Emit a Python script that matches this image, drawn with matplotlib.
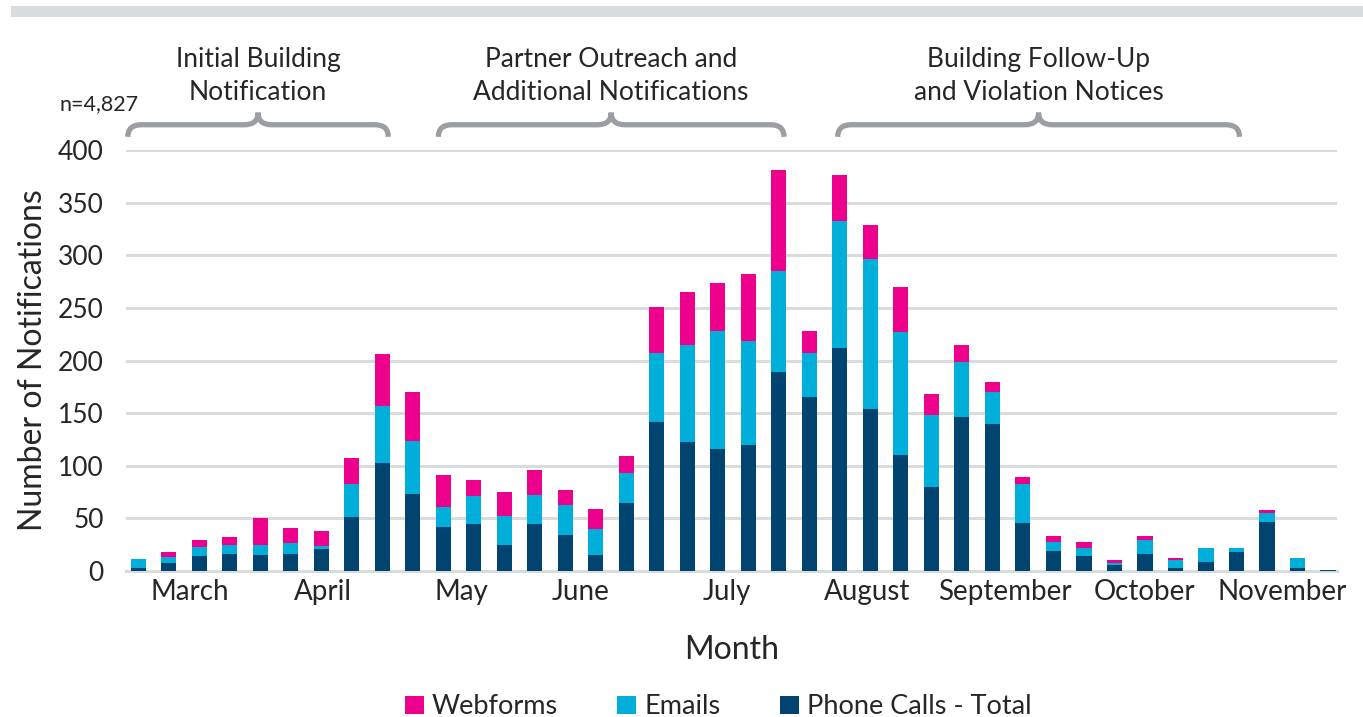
import matplotlib.pyplot as plt
import numpy as np
from matplotlib.path import Path
from matplotlib.patches import PathPatch, Rectangle

plt.rcParams['font.family'] = ['Lato', 'DejaVu Sans']

# weekly counts
phone = [3, 8, 14, 16, 15, 16, 21, 51, 103, 73,
         42, 45, 25, 45, 34, 15, 65, 142, 123, 116,
         120, 189, 165, 212, 154, 110, 80, 146, 140, 46,
         19, 14, 6, 16, 3, 9, 18, 47, 3, 0.5]
emails = [8, 5, 9, 9, 10, 11, 3, 32, 54, 51,
          19, 26, 27, 27, 29, 25, 28, 65, 92, 112,
          99, 96, 42, 121, 142, 117, 68, 53, 30, 37,
          9, 8, 2, 13, 7, 13, 4, 8, 9, 0]
webforms = [0, 5, 6, 7, 25, 14, 14, 24, 49, 46,
            30, 15, 23, 24, 14, 19, 16, 44, 50, 46,
            63, 96, 21, 43, 33, 43, 20, 16, 10, 6,
            5, 6, 2, 4, 2, 0, 0, 3, 0, 0]

month_labels = ['March', 'April', 'May', 'June', 'July', 'August',
                'September', 'October', 'November']
month_pos = [1.7, 6.05, 10.6, 14.5, 19.3, 23.9, 28.4, 33.0, 37.5]

phases = ['Initial Building\nNotification',
          'Partner Outreach and\nAdditional Notifications',
          'Building Follow-Up\nand Violation Notices']
phase_spans = [(-0.34, 8.2), (9.84, 21.17), (22.93, 36.1)]

c_phone = '#00446f'
c_email = '#00afd9'
c_web = '#ec008c'
txt = '#262626'

x = np.arange(len(phone))
phone = np.array(phone)
emails = np.array(emails)
webforms = np.array(webforms)

fig = plt.figure(figsize=(13.63, 7.17), dpi=100)
ax = fig.add_axes([0.0924, 0.2036, 0.8886, 0.5872])

w = 0.5
ax.bar(x, phone, w, color=c_phone, label='Phone Calls - Total', zorder=3)
ax.bar(x, emails, w, bottom=phone, color=c_email, label='Emails', zorder=3)
ax.bar(x, webforms, w, bottom=phone + emails, color=c_web, label='Webforms', zorder=3)

ax.set_xlim(-0.4, 39.3)
ax.set_ylim(0, 400)
ax.set_yticks(range(0, 401, 50))
ax.yaxis.grid(True, color='#d9dcdd', linewidth=2.2, zorder=0)
ax.set_axisbelow(True)
for s in ['top', 'right', 'left']:
    ax.spines[s].set_visible(False)
ax.spines['bottom'].set_color('#d9dcdd')
ax.spines['bottom'].set_linewidth(2.2)
ax.tick_params(axis='y', length=0, labelsize=19, labelcolor=txt, pad=16)
ax.set_xticks(month_pos)
ax.set_xticklabels(month_labels)
ax.tick_params(axis='x', length=0, labelsize=20, labelcolor=txt, pad=6)

ax.set_ylabel('Number of Notifications', fontsize=23, color=txt, labelpad=7)
ax.set_xlabel('Month', fontsize=23, color=txt, labelpad=21)

handles, labels = ax.get_legend_handles_labels()
fig.legend(handles[::-1], labels[::-1], loc='center', bbox_to_anchor=(0.527, 0.014),
           ncol=3, frameon=False, fontsize=19.5, handlelength=0.7, handleheight=0.7,
           handletextpad=0.3, columnspacing=2.2, labelcolor=txt)

# braces over the three phases
y_end, y_line, y_tip = 412.5, 424, 435.5
for (x0, x1), name in zip(phase_spans, phases):
    xm = (x0 + x1) / 2
    d = 0.45
    verts = [(x0, y_end), (x0, y_line), (x0 + d, y_line),
             (xm - d, y_line), (xm, y_line), (xm, y_tip),
             (xm, y_line), (xm + d, y_line),
             (x1 - d, y_line), (x1, y_line), (x1, y_end)]
    codes = [Path.MOVETO, Path.CURVE3, Path.CURVE3,
             Path.LINETO, Path.CURVE3, Path.CURVE3,
             Path.CURVE3, Path.CURVE3,
             Path.LINETO, Path.CURVE3, Path.CURVE3]
    ax.add_patch(PathPatch(Path(verts, codes), fill=False, edgecolor='#9b9ea3',
                           linewidth=3.8, capstyle='butt', clip_on=False))
    ax.text(xm, y_tip + 7, name, ha='center', va='bottom', fontsize=19,
            color=txt, linespacing=1.4)

fig.text(0.044, 0.855, 'n=4,827', fontsize=15.5, color=txt, va='center')

# grey band at top
fig.patches.append(Rectangle((0.008, 0.976), 0.992, 0.015, transform=fig.transFigure,
                             facecolor='#d9dcdd', edgecolor='none'))

fig.savefig('out.png', dpi=100, facecolor='white')
